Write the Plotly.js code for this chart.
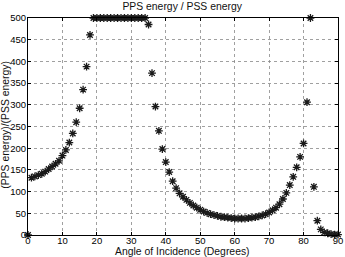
<!DOCTYPE html>
<html>
<head>
<meta charset="utf-8">
<script src="https://cdn.plot.ly/plotly-3.0.1.min.js"></script>
<style>
  html, body { margin: 0; padding: 0; background: #fff; }
  #chart { width: 345px; height: 257px; }
</style>
</head>
<body>
<div id="chart"></div>
<script>
// Incidence angle in degrees, one sample per degree
const angleDeg = [
  0, 1, 2, 3, 4, 5, 6, 7, 8, 9,
  10, 11, 12, 13, 14, 15, 16, 17, 18, 19,
  20, 21, 22, 23, 24, 25, 26, 27, 28, 29,
  30, 31, 32, 33, 34, 35, 36, 37, 38, 39,
  40, 41, 42, 43, 44, 45, 46, 47, 48, 49,
  50, 51, 52, 53, 54, 55, 56, 57, 58, 59,
  60, 61, 62, 63, 64, 65, 66, 67, 68, 69,
  70, 71, 72, 73, 74, 75, 76, 77, 78, 79,
  80, 81, 82, 83, 84, 85, 86, 87, 88, 89, 90
];

// PPS / PSS energy ratio (values capped at 500)
const energyRatio = [
  0, 132, 135, 138, 141, 146, 152, 158, 164, 171,
  183, 196, 213, 234, 260, 292, 335, 388, 461, 500,
  500, 500, 500, 500, 500, 500, 500, 500, 500, 500,
  500, 500, 500, 500, 500, 485, 373, 296, 240, 198,
  168, 145, 124, 108, 96, 88, 81, 74, 68, 63,
  58, 54, 51, 48, 46, 44, 42, 41, 40, 39,
  38, 38, 38, 38, 39, 40, 41, 43, 45, 48,
  52, 57, 63, 71, 83, 97, 115, 134, 156, 180,
  211, 306, 500, 111, 33, 13, 6, 4, 2, 1, 1
];

const xTicks = [0, 10, 20, 30, 40, 50, 60, 70, 80, 90];
const yTicks = [0, 50, 100, 150, 200, 250, 300, 350, 400, 450, 500];

const xTitle = 'Angle of Incidence (Degrees)';
const yTitle = '(PPS energy)/(PSS energy)';
const chartTitle = 'PPS energy / PSS energy';

const family = 'Liberation Sans, Arial, sans-serif';
const tickFont = { family: family, color: '#000', size: 9.5 };
const titleFont = { family: family, color: '#111', size: 10.4 };

const trace = {
  x: angleDeg,
  y: energyRatio,
  type: 'scatter',
  mode: 'markers',
  marker: {
    symbol: 'asterisk-open',
    size: 6.5,
    color: '#1a1a1a',
    line: { color: '#1a1a1a', width: 1.3 }
  },
  cliponaxis: false,
  hoverinfo: 'x+y'
};

const axisCommon = {
  showline: true,
  mirror: 'ticks',
  linecolor: '#000',
  linewidth: 1,
  ticks: 'inside',
  ticklen: 3,
  tickcolor: '#000',
  showgrid: true,
  gridcolor: '#888',
  griddash: 'dot',
  gridwidth: 0.8,
  zeroline: false,
  tickfont: tickFont
};

const layout = {
  width: 345,
  height: 257,
  margin: { l: 28, r: 7, t: 18, b: 22 },
  paper_bgcolor: '#fff',
  plot_bgcolor: '#fff',
  showlegend: false,
  font: tickFont,
  title: {
    text: chartTitle,
    font: titleFont,
    x: 0.528, xanchor: 'center',
    y: 0.99, yanchor: 'top'
  },
  xaxis: Object.assign({}, axisCommon, {
    range: [0, 90],
    tickvals: xTicks,
    ticktext: xTicks.map(String),
    ticklabelstandoff: -3
  }),
  yaxis: Object.assign({}, axisCommon, {
    range: [0, 500],
    tickvals: yTicks,
    ticktext: yTicks.map(String),
    ticklabelstandoff: -1
  }),
  annotations: [
    {
      text: xTitle, font: titleFont, showarrow: false,
      xref: 'paper', yref: 'paper', x: 0.497, y: -0.076,
      xanchor: 'center', yanchor: 'middle'
    },
    {
      text: yTitle, font: titleFont, showarrow: false, textangle: -90,
      xref: 'paper', yref: 'paper', x: -0.073, y: 0.51,
      xanchor: 'center', yanchor: 'middle'
    }
  ]
};

Plotly.newPlot('chart', [trace], layout, { displayModeBar: false, staticPlot: true });
</script>
</body>
</html>
